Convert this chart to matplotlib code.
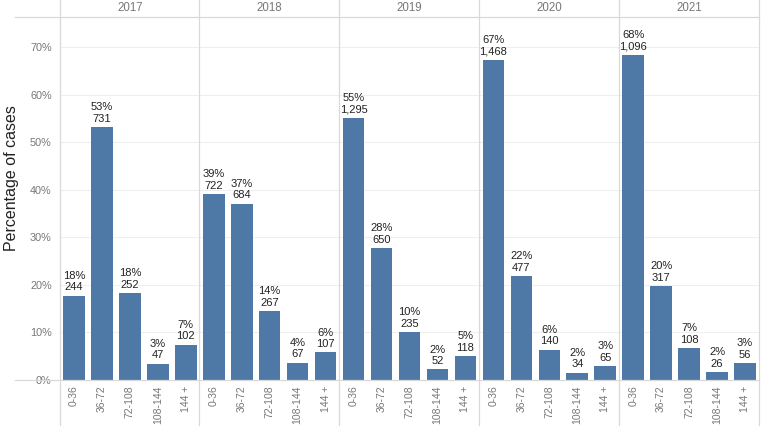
import matplotlib.pyplot as plt
from matplotlib.lines import Line2D

plt.rcParams['font.family'] = ['Liberation Sans', 'DejaVu Sans']

years = ["2017", "2018", "2019", "2020", "2021"]
groups = ["0-36", "36-72", "72-108", "108-144", "144 +"]

# case counts per group, per year
counts_2017 = [244, 731, 252, 47, 102]
counts_2018 = [722, 684, 267, 67, 107]
counts_2019 = [1295, 650, 235, 52, 118]
counts_2020 = [1468, 477, 140, 34, 65]
counts_2021 = [1096, 317, 108, 26, 56]
all_counts = [counts_2017, counts_2018, counts_2019, counts_2020, counts_2021]

W, H = 761, 428
bar_color = "#4e79a7"
grid_color = "#efefef"
line_color = "#d9d9d9"
tick_color = "#777777"

fig = plt.figure(figsize=(W / 100, H / 100), dpi=100)
axes = fig.subplots(1, 5, sharey=True)
fig.subplots_adjust(left=60 / W, right=759 / W, top=1 - 17 / H, bottom=1 - 380 / H, wspace=0)

for ax, year, counts in zip(axes, years, all_counts):
    total = sum(counts)
    pct = [c / total * 100 for c in counts]
    x = range(len(groups))
    ax.bar(x, pct, width=0.77, color=bar_color, zorder=3)
    for xi, p, c in zip(x, pct, counts):
        ax.text(xi, p + 0.7, f"{p:.0f}%\n{c:,}", ha="center", va="bottom",
                fontsize=8, color="#222222", linespacing=1.2, zorder=4)
    ax.set_xlim(-0.5, 4.5)
    ax.set_ylim(0, 76.3)
    ax.set_yticks(range(0, 71, 10))
    ax.set_yticklabels([f"{v}%" for v in range(0, 71, 10)])
    ax.set_xticks(list(x))
    ax.set_xticklabels(groups, rotation=90, fontsize=7.5, color=tick_color)
    ax.tick_params(length=0, pad=4)
    ax.tick_params(axis="y", labelsize=7.8, labelcolor=tick_color, pad=6)
    for yv in range(10, 71, 10):
        ax.axhline(yv, color=grid_color, lw=0.8, zorder=1)
    for s in ax.spines.values():
        s.set_visible(False)
    ax.text(0.5, 1 + 9 / 363, year, transform=ax.transAxes, ha="center", va="center",
            fontsize=8.3, color=tick_color)

# panel separators and header / baseline rules
for px in [60, 199, 339, 479, 619, 759]:
    fig.add_artist(Line2D([px / W, px / W], [1, 1 - 425 / H], color=line_color, lw=0.9))
for py in [17, 380]:
    fig.add_artist(Line2D([15 / W, 759 / W], [1 - py / H, 1 - py / H], color=line_color, lw=0.9))

fig.text(12 / W, 1 - 178 / H, "Percentage of cases", rotation=90, ha="center", va="center",
         fontsize=11.5, color="#222222")

fig.savefig("out.png", dpi=100)
